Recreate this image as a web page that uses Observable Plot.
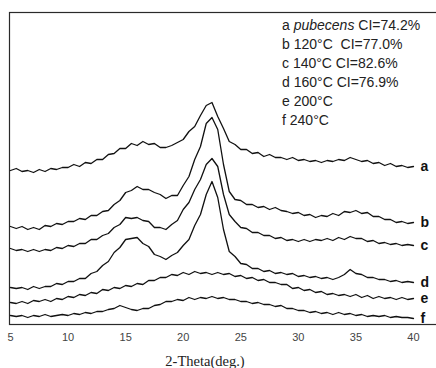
<!DOCTYPE html>
<html>
<head>
<meta charset="utf-8">
<script src="https://cdn.jsdelivr.net/npm/d3@7"></script>
<script src="https://cdn.jsdelivr.net/npm/@observablehq/plot@0.6"></script>
<style>
  html, body { margin: 0; padding: 0; background: #fff; }
  #chart { width: 436px; height: 368px; overflow: hidden; position: relative; }
  #legend { position: absolute; left: 282px; top: 16px; font: 14px 'Liberation Sans', Arial, sans-serif; line-height: 19px; color: #222; white-space: pre; }
  #xtitle { position: absolute; left: 105px; top: 353px; width: 200px; text-align: center; font: 14.5px 'Liberation Serif', 'Times New Roman', serif; line-height: 16px; color: #222; }
</style>
</head>
<body>
<div id="chart"><div id="legend"></div><div id="xtitle"></div></div>
<script>
// 2-theta sampling positions (degrees)
const twoTheta = [5,5.5,6,6.5,7,7.5,8,8.5,9,9.5,10,10.5,11,11.5,12,12.5,13,13.5,14,14.5,15,15.5,16,16.5,17,17.5,18,18.5,19,19.5,20,20.5,21,21.5,22,22.5,23,23.5,24,24.5,25,25.5,26,26.5,27,27.5,28,28.5,29,29.5,30,30.5,31,31.5,32,32.5,33,33.5,34,34.5,35,35.5,36,36.5,37,37.5,38,38.5,39,39.5,40];

// stacked intensities (arbitrary units, offset as in the figure)
const seriesA = [155,157,154,155,153,156,154,157,156,158,158,161,159,163,162,166,166,171,172,177,177,182,180,184,181,182,178,178,180,183,186,194,199,210,220,223,209,197,184,181,176,176,172,173,169,171,168,168,166,168,165,166,164,165,163,165,164,166,165,168,166,164,165,162,163,160,162,159,160,158,159];
const seriesB = [99,97,99,96,98,96,100,99,102,101,104,104,107,106,110,110,114,115,121,125,133,135,139,136,136,133,131,127,130,130,140,149,166,179,202,208,196,161,134,126,125,121,121,118,119,116,118,115,114,112,113,110,111,108,110,109,112,110,114,113,115,112,113,109,109,106,106,103,104,102,103];
const seriesC = [77,75,76,74,76,74,76,75,78,77,80,79,82,82,86,86,90,92,98,101,108,107,108,105,104,98,98,96,101,105,116,123,136,146,161,167,159,131,111,104,98,97,93,93,90,90,87,88,85,86,84,86,84,86,85,87,85,88,86,89,87,87,84,85,82,83,81,82,80,81,80];
const seriesD = [38,37,38,36,39,37,39,39,42,41,44,44,47,47,52,54,60,64,73,78,86,87,88,82,79,71,69,66,70,73,80,86,100,111,131,144,128,96,74,69,62,61,57,57,54,55,52,53,51,52,49,50,48,49,47,48,46,48,51,56,52,51,48,48,46,46,44,45,43,44,43];
const seriesE = [23,22,24,22,25,24,26,24,27,26,29,28,31,30,33,32,36,35,38,37,40,39,42,41,45,45,48,48,51,50,53,51,54,52,53,51,53,51,52,49,50,47,48,45,46,43,43,41,41,37,38,35,36,33,34,31,32,30,31,29,31,28,30,27,29,27,28,26,28,26,27];
const seriesF = [10,9,10,8,10,9,11,9,10,11,10,12,11,13,12,14,14,16,17,20,18,16,15,17,17,20,21,24,24,26,25,28,26,28,27,29,27,28,26,26,24,24,22,23,21,21,19,20,17,17,15,15,13,14,12,13,11,13,11,12,10,11,9,10,9,10,8,9,8,8,7];

const seriesKeys = ["a","b","c","d","e","f"];
const seriesValues = [seriesA, seriesB, seriesC, seriesD, seriesE, seriesF];

// legend entries
const legendKeys = ["a","b","c","d","e","f"];
const legendItalic = ["pubecens","","","","",""];
const legendRest = [" CI=74.2%","120°C  CI=77.0%","140°C CI=82.6%","160°C CI=76.9%","200°C","240°C"];

const xTicks = [5,10,15,20,25,30,35,40];
const xMinorTicks = [7.5,12.5,17.5,22.5,27.5,32.5,37.5];
const axisTitle = "2-Theta(deg.)";

const rows = [];
seriesKeys.forEach((k, si) => {
  seriesValues[si].forEach((v, i) => rows.push({series: k, x: twoTheta[i], y: v}));
});
const ends = seriesKeys.map((k, si) => ({series: k, x: twoTheta[twoTheta.length - 1], y: seriesValues[si][seriesValues[si].length - 1]}));

const xMin = 4.913, xMax = 42.0, yMin = 0, yMax = 312;

const chart = Plot.plot({
  width: 436, height: 368, marginLeft: 9, marginRight: 0, marginTop: 13, marginBottom: 43,
  style: {fontFamily: "'Liberation Sans', Arial, sans-serif", fontSize: "11px", color: "#444"},
  x: {domain: [xMin, xMax], ticks: xTicks, tickSize: 0, tickPadding: 8, label: null, tickFormat: d => String(d)},
  y: {domain: [yMin, yMax], axis: null},
  marks: [
    // plot box (open on the right, which runs past the picture edge)
    Plot.rect([{x1: xMin, x2: xMax + 2, y1: yMin, y2: yMax}], {x1: "x1", x2: "x2", y1: "y1", y2: "y2", fill: "none", stroke: "#2a2a2a", strokeWidth: 1.2, dx: 0.5, dy: -0.5}),
    // inward ticks as thin filled bars
    Plot.rect(xTicks, {x1: d => d, x2: d => d, y1: 0, y2: 6, fill: "none", stroke: "#222", strokeWidth: 1, dx: 0.5}),
    Plot.rect(xMinorTicks, {x1: d => d, x2: d => d, y1: 0, y2: 3, fill: "none", stroke: "#222", strokeWidth: 1, dx: 0.5}),
    Plot.line(rows, {x: "x", y: "y", z: "series", stroke: "#111", strokeWidth: 1.3}),
    Plot.text(ends, {x: "x", y: "y", text: "series", dx: 7, textAnchor: "start", fontSize: 14, fontWeight: "bold", fill: "#111"})
  ]
});
document.getElementById("chart").appendChild(chart);

// legend (HTML overlay)
const legend = d3.select("#legend");
legendKeys.forEach((k, i) => {
  const line = legend.append("div");
  line.append("span").text(k + " ");
  if (legendItalic[i]) line.append("i").text(legendItalic[i]);
  line.append("span").text(legendRest[i]);
});
d3.select("#xtitle").text(axisTitle);
</script>
</body>
</html>
